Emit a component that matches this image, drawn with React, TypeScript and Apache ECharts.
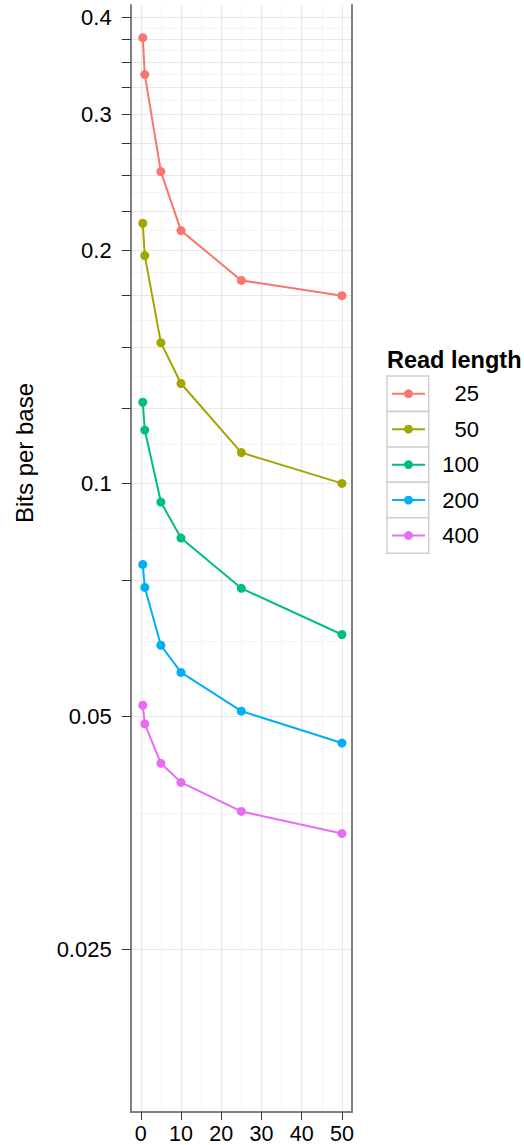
import React, { useEffect, useRef } from "react";
import * as echarts from "echarts";

const xValues = [0.5, 1, 5, 10, 25, 50];
const seriesNames = ["25", "50", "100", "200", "400"];
const rl25 = [0.3765, 0.3373, 0.2528, 0.2121, 0.1829, 0.1748];
const rl50 = [0.2168, 0.1969, 0.152, 0.1346, 0.1096, 0.1];
const rl100 = [0.1273, 0.1172, 0.0946, 0.085, 0.0732, 0.0638];
const rl200 = [0.0786, 0.0734, 0.0618, 0.057, 0.0508, 0.0462];
const rl400 = [0.0517, 0.0489, 0.0435, 0.0411, 0.0377, 0.0353];
const seriesValues = [rl25, rl50, rl100, rl200, rl400];
const colors = ["#F8766D", "#A3A500", "#00BF7D", "#00B0F6", "#E76BF3"];

const xTicks = [0, 10, 20, 30, 40, 50];
const xMinor = [5, 15, 25, 35, 45];
const yTicks = [0.025, 0.05, 0.075, 0.1, 0.125, 0.15, 0.175, 0.2, 0.225, 0.25, 0.275, 0.3, 0.325, 0.35, 0.375, 0.4];
const yLabels = [0.025, 0.05, 0.1, 0.2, 0.3, 0.4];
const yMinor = [0.0375, 0.0625, 0.0875, 0.1125, 0.1375, 0.1625, 0.1875, 0.2125, 0.2375, 0.2625, 0.2875, 0.3125, 0.3375, 0.3625, 0.3875];

const FONT = "Liberation Sans, Arial, Helvetica, sans-serif";

export default function App() {
  const ref = useRef<HTMLDivElement>(null);
  useEffect(() => {
    if (!ref.current) return;
    const chart = echarts.init(ref.current, undefined, { renderer: "svg" });
    const yMin = 0.01542;
    const yMax = 0.4149;
    const axisColor = "#7f7f7f";
    const legendTop = 376;
    const rowH = 35.45;
    const boxes = seriesNames.map((_, i) => ({
      type: "rect",
      z: 0,
      shape: { x: 387, y: legendTop + i * rowH, width: 41.7, height: rowH },
      style: { fill: "#ffffff", stroke: "#cfcfcf", lineWidth: 1.5 },
    }));
    const option: any = {
      animation: false,
      backgroundColor: "#ffffff",
      textStyle: { fontFamily: FONT },
      title: {
        text: "Read length",
        left: 387,
        top: 348,
        padding: 0,
        textStyle: { fontFamily: FONT, fontSize: 23.5, fontWeight: "bold", color: "#000" },
      },
      grid: { left: 130.7, right: 172, top: 5, bottom: 32.5, containLabel: false },
      legend: {
        orient: "vertical",
        left: 391,
        top: legendTop + rowH / 2 - 11,
        padding: 0,
        itemWidth: 33,
        itemHeight: 11,
        itemGap: rowH - 22,
        data: seriesNames,
        formatter: "{a|{name}}",
        textStyle: {
          fontFamily: FONT,
          fontSize: 22,
          color: "#000",
          lineHeight: 22,
          rich: {
            a: { fontFamily: FONT, fontSize: 22, color: "#000", width: 49, align: "right", lineHeight: 22 },
          },
        },
      },
      xAxis: [
        {
          type: "value",
          min: -2.5,
          max: 52.5,
          position: "bottom",
          axisLine: { show: true, onZero: false, lineStyle: { color: axisColor, width: 2 } },
          axisTick: { show: true, customValues: xTicks, length: 8, lineStyle: { color: "#333", width: 1 } },
          axisLabel: { customValues: xTicks, fontSize: 21.5, color: "#000", margin: 11, fontFamily: FONT },
          splitLine: { show: true, lineStyle: { color: "#e8e8e8", width: 1.2 } },
        },
        {
          type: "value",
          min: -2.5,
          max: 52.5,
          position: "top",
          axisLine: { show: false },
          axisTick: { show: false, customValues: xMinor },
          axisLabel: { show: false, customValues: xMinor },
          splitLine: { show: true, lineStyle: { color: "#f4f4f4", width: 1 } },
        },
      ],
      yAxis: [
        {
          type: "log",
          logBase: 10,
          min: yMin,
          max: yMax,
          position: "left",
          axisLine: { show: true, onZero: false, lineStyle: { color: axisColor, width: 2 } },
          axisTick: { show: true, customValues: yTicks, length: 9, lineStyle: { color: "#333", width: 1 } },
          axisLabel: {
            customValues: yLabels,
            fontSize: 22,
            color: "#000",
            margin: 19,
            fontFamily: FONT,
            formatter: (v: number) => String(Number(Number(v).toPrecision(3))),
          },
          splitLine: { show: true, lineStyle: { color: "#e8e8e8", width: 1.2 } },
        },
        {
          type: "log",
          logBase: 10,
          min: yMin,
          max: yMax,
          position: "right",
          axisLine: { show: true, onZero: false, lineStyle: { color: axisColor, width: 2 } },
          axisTick: { show: false, customValues: yMinor },
          axisLabel: { show: false, customValues: yMinor },
          splitLine: { show: true, lineStyle: { color: "#f4f4f4", width: 1 } },
        },
      ],
      graphic: [
        ...boxes,
        {
          type: "text",
          x: 24,
          y: 453,
          rotation: Math.PI / 2,
          style: {
            text: "Bits per base",
            fontFamily: FONT,
            fontSize: 24,
            fill: "#000",
            align: "center",
            verticalAlign: "middle",
          },
        },
      ],
      series: seriesNames.map((name, i) => ({
        name,
        type: "line",
        xAxisIndex: 0,
        yAxisIndex: 0,
        data: xValues.map((x, j) => [x, seriesValues[i][j]]),
        symbol: "circle",
        symbolSize: 9,
        showAllSymbol: true,
        lineStyle: { color: colors[i], width: 2 },
        itemStyle: { color: colors[i] },
        z: 3,
      })),
    };
    chart.setOption(option);
    return () => chart.dispose();
  }, []);
  return (
    <div
      ref={ref}
      style={{ position: "absolute", left: 0, top: 0, width: 524, height: 1145 }}
    />
  );
}
